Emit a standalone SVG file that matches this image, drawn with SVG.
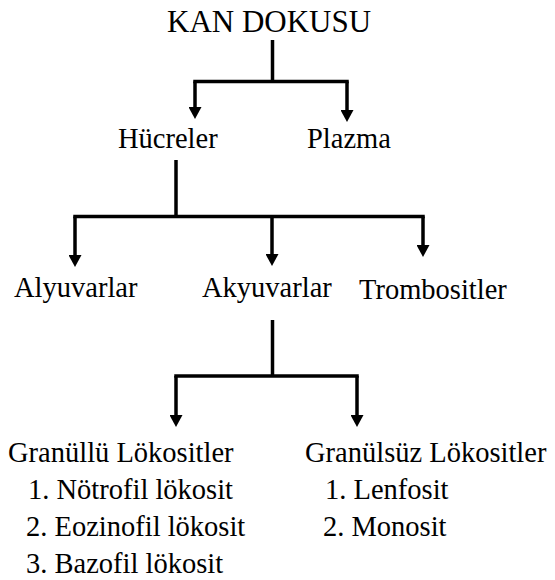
<svg xmlns="http://www.w3.org/2000/svg" width="555" height="580" viewBox="0 0 555 580">
  <style>
    text { font-family: "Liberation Serif", Tinos, "Times New Roman", Times, "Noto Serif", "DejaVu Serif", serif; font-size: 28.5px; fill: #000; }
    .title { font-size: 31px; }
    .conn path { fill: none; stroke: #000; stroke-width: 3.5; }
    .bar { stroke-linecap: square; }
  </style>
  <defs>
    <marker id="arrow" markerUnits="userSpaceOnUse" markerWidth="13" markerHeight="13" viewBox="0 0 12 13" refX="1" refY="6.5" orient="auto">
      <path d="M0,0 L12,6.5 L0,13 z" fill="#000"/>
    </marker>
  </defs>
  <rect width="555" height="580" fill="#fff"/>
  <g id="connectors" class="conn">
    <path d="M272.5,40 V81.5"/>
    <path class="bar" d="M195,81.5 H347"/>
    <path d="M195,81.5 V108" marker-end="url(#arrow)"/>
    <path d="M347,81.5 V111" marker-end="url(#arrow)"/>
    <path d="M176,160 V216.5"/>
    <path class="bar" d="M75,216.5 H423"/>
    <path d="M75,216.5 V256" marker-end="url(#arrow)"/>
    <path d="M272,216.5 V255" marker-end="url(#arrow)"/>
    <path d="M423,216.5 V246" marker-end="url(#arrow)"/>
    <path d="M272.5,320 V376"/>
    <path class="bar" d="M176,376 H357"/>
    <path d="M176,376 V416" marker-end="url(#arrow)"/>
    <path d="M357,376 V416" marker-end="url(#arrow)"/>
  </g>
  <g id="kan-dokusu"><text class="title" x="167" y="32">KAN DOKUSU</text></g>
  <g id="hucreler"><text x="118" y="148">Hücreler</text></g>
  <g id="plazma"><text x="307" y="148">Plazma</text></g>
  <g id="alyuvarlar"><text x="14" y="297">Alyuvarlar</text></g>
  <g id="akyuvarlar"><text x="202" y="297">Akyuvarlar</text></g>
  <g id="trombositler"><text x="359" y="299">Trombositler</text></g>
  <g id="granullu">
    <text x="8" y="462">Granüllü Lökositler</text>
    <text x="28" y="499">1. Nötrofil lökosit</text>
    <text x="26" y="536">2. Eozinofil lökosit</text>
    <text x="26" y="573">3. Bazofil lökosit</text>
  </g>
  <g id="granulsuz">
    <text x="305" y="462">Granülsüz Lökositler</text>
    <text x="325" y="499">1. Lenfosit</text>
    <text x="323" y="536">2. Monosit</text>
  </g>
</svg>
